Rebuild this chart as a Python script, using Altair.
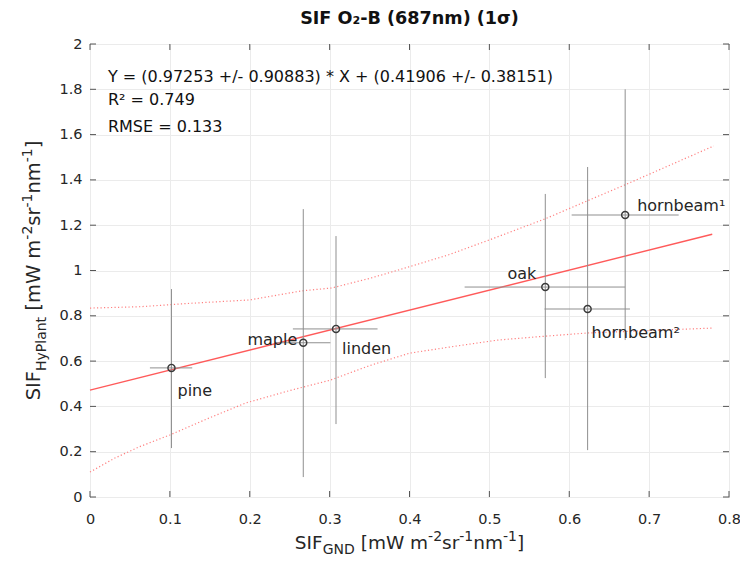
import altair as alt
import pandas as pd

# ---------------- data ----------------
names = ["pine", "maple", "linden", "oak", "hornbeam²", "hornbeam¹"]
sif_gnd = [0.102, 0.267, 0.308, 0.570, 0.623, 0.670]
sif_hyplant = [0.570, 0.681, 0.742, 0.927, 0.830, 1.245]
gnd_lo = [0.075, 0.232, 0.254, 0.469, 0.569, 0.603]
gnd_hi = [0.128, 0.301, 0.360, 0.670, 0.676, 0.737]
hyp_lo = [0.216, 0.088, 0.322, 0.525, 0.207, 0.693]
hyp_hi = [0.918, 1.271, 1.152, 1.338, 1.457, 1.800]

fit_x = [0.0, 0.779]
fit_y = [0.472, 1.160]

upper_x = [0.0, 0.062, 0.125, 0.200, 0.265, 0.303, 0.352, 0.386, 0.448, 0.500, 0.569, 0.669, 0.781]
upper_y = [0.834, 0.840, 0.855, 0.870, 0.910, 0.923, 0.967, 1.002, 1.068, 1.135, 1.227, 1.377, 1.550]
lower_x = [0.0, 0.030, 0.062, 0.100, 0.150, 0.195, 0.250, 0.300, 0.350, 0.400, 0.450, 0.511, 0.573, 0.623, 0.700, 0.781]
lower_y = [0.110, 0.170, 0.222, 0.274, 0.350, 0.415, 0.470, 0.515, 0.580, 0.635, 0.662, 0.693, 0.711, 0.724, 0.735, 0.746]

x_ticks = [0.0, 0.1, 0.2, 0.3, 0.4, 0.5, 0.6, 0.7, 0.8]
y_ticks = [0.0, 0.2, 0.4, 0.6, 0.8, 1.0, 1.2, 1.4, 1.6, 1.8, 2.0]

eq_lines = ["Y = (0.97253 +/- 0.90883) * X + (0.41906 +/- 0.38151)", "R² = 0.749", "RMSE = 0.133"]
eq_y = [1.854, 1.753, 1.634]

title_text = "SIF O₂-B (687nm) (1σ)"
unit_parts = [("[mW m", 0), ("-2", 1), ("sr", 0), ("-1", 1), ("nm", 0), ("-1", 1), ("]", 0)]

# label offsets (pixels) relative to each point: (dx, dy, align)
label_style = [(6, 23, "left"), (-6, -3, "right"), (6, 20, "left"),
               (-9, -13, "right"), (4, 24, "left"), (12, -9, "left")]

W, H = 639, 453
FONT = "DejaVu Sans"
TXT = "#262626"

# approximate DejaVu Sans advance widths (em) for laying out the composite axis titles
DV = {" ": .318, "[": .390, "]": .390, "m": .974, "W": .989, "s": .521, "r": .411,
      "n": .634, "-": .361, "1": .636, "2": .636, "S": .635, "I": .295, "F": .575,
      "G": .775, "N": .748, "D": .770, "H": .752, "y": .592, "P": .603, "l": .278,
      "a": .613, "t": .392}


def tw(s, size):
    return sum(DV.get(c, .6) for c in s) * size


xs = alt.Scale(domain=[0, 0.8], nice=False, zero=False)
ys = alt.Scale(domain=[0, 2], nice=False, zero=False)

pts = pd.DataFrame({"name": names, "x": sif_gnd, "y": sif_hyplant,
                    "xlo": gnd_lo, "xhi": gnd_hi, "ylo": hyp_lo, "yhi": hyp_hi})

xaxis = alt.Axis(values=x_ticks, format="~g", title="", grid=True, tickSize=0,
                 domain=False, labelPadding=15, labelFlush=False)
yaxis = alt.Axis(values=y_ticks, format="~g", title="", grid=True, tickSize=0,
                 domain=False, labelPadding=8, labelFlush=False)

base = alt.Chart(pts)

axes = base.mark_point(opacity=0).encode(
    x=alt.X("x:Q", scale=xs, axis=xaxis),
    y=alt.Y("y:Q", scale=ys, axis=yaxis),
)

band_style = dict(color="#ff8080", strokeDash=[1.2, 2.3], strokeWidth=1.2)
upper = alt.Chart(pd.DataFrame({"x": upper_x, "y": upper_y})).mark_line(**band_style).encode(
    x=alt.X("x:Q", scale=xs), y=alt.Y("y:Q", scale=ys))
lower = alt.Chart(pd.DataFrame({"x": lower_x, "y": lower_y})).mark_line(**band_style).encode(
    x=alt.X("x:Q", scale=xs), y=alt.Y("y:Q", scale=ys))

fit = alt.Chart(pd.DataFrame({"x": fit_x, "y": fit_y})).mark_line(
    color="#ff5a5a", strokeWidth=1.4
).encode(x=alt.X("x:Q", scale=xs), y=alt.Y("y:Q", scale=ys))

vbar = base.mark_rule(color="#8f8f8f", strokeWidth=1).encode(
    x=alt.X("x:Q", scale=xs), y=alt.Y("ylo:Q", scale=ys), y2="yhi:Q")
hbar = base.mark_rule(color="#8f8f8f", strokeWidth=1).encode(
    x=alt.X("xlo:Q", scale=xs), x2="xhi:Q", y=alt.Y("y:Q", scale=ys))

circles = base.mark_point(shape="circle", size=50, filled=False, color="#3a3a3a",
                          strokeWidth=1.4, opacity=1).encode(
    x=alt.X("x:Q", scale=xs), y=alt.Y("y:Q", scale=ys))

labels = []
for i, (dx, dy, al) in enumerate(label_style):
    labels.append(
        alt.Chart(pts.iloc[[i]]).mark_text(
            align=al, baseline="middle", dx=dx, dy=dy, font=FONT, fontSize=16, color=TXT
        ).encode(x=alt.X("x:Q", scale=xs), y=alt.Y("y:Q", scale=ys), text="name:N")
    )

eq = alt.Chart(pd.DataFrame({"t": eq_lines, "y": eq_y, "x": [0.0224] * 3})).mark_text(
    align="left", baseline="middle", font=FONT, fontSize=16, color="#111111"
).encode(x=alt.X("x:Q", scale=xs), y=alt.Y("y:Q", scale=ys), text="t:N")

# inward ticks on all four sides
xt = alt.Chart(pd.DataFrame({"t": x_ticks}))
yt = alt.Chart(pd.DataFrame({"t": y_ticks}))
tk = dict(color="#555555", strokeWidth=1)
ticks = [
    xt.mark_rule(**tk).encode(x=alt.X("t:Q", scale=xs), y=alt.value(H), y2=alt.value(H - 6)),
    xt.mark_rule(**tk).encode(x=alt.X("t:Q", scale=xs), y=alt.value(0), y2=alt.value(6)),
    yt.mark_rule(**tk).encode(y=alt.Y("t:Q", scale=ys), x=alt.value(0), x2=alt.value(6)),
    yt.mark_rule(**tk).encode(y=alt.Y("t:Q", scale=ys), x=alt.value(W), x2=alt.value(W - 6)),
]


def piece(text, x, y, size, angle=0):
    return alt.Chart(pd.DataFrame({"t": [text]})).mark_text(
        align="left", baseline="alphabetic", font=FONT, fontSize=size, color=TXT, angle=angle
    ).encode(x=alt.value(x), y=alt.value(y), text="t:N")


# title as text mark
title = alt.Chart(pd.DataFrame({"t": [title_text]})).mark_text(
    align="center", baseline="alphabetic", font=FONT, fontSize=17.6, fontWeight="bold",
    color="#111111"
).encode(x=alt.value(W / 2), y=alt.value(-20), text="t:N")


# ---- composite axis titles (main text, subscripts, superscripts) ----
def composite(sub, main, small):
    parts = [("SIF", main, 0), (sub, small, 1), (" ", main, 0)]
    for t, kind in unit_parts:
        parts.append((t, small if kind else main, -1 if kind else 0))
    return parts


xparts = composite("GND", 18.5, 14)
xtotal = sum(tw(t, s) for t, s, _ in xparts)
xcur = W / 2 - xtotal / 2
xbase = H + 52
xtitle = []
for t, s, k in xparts:
    sh = {0: 0, 1: 5, -1: -8}[k]
    if t.strip():
        xtitle.append(piece(t, xcur, xbase + sh, s))
    xcur += tw(t, s)

yparts = composite("HyPlant", 19.5, 14)
ytotal = sum(tw(t, s) for t, s, _ in yparts)
ycur = H / 2 + ytotal / 2
ybase = -50
ytitle = []
for t, s, k in yparts:
    sh = {0: 0, 1: 6, -1: -8}[k]
    if t.strip():
        ytitle.append(piece(t, ybase + sh, ycur, s, 270))
    ycur -= tw(t, s)

chart = alt.layer(
    axes, upper, lower, fit, vbar, hbar, circles, *labels, eq, *ticks, title, *xtitle, *ytitle
).properties(
    width=W, height=H,
    autosize=alt.AutoSizeParams(type="none"),
    padding={"left": 82, "top": 36, "right": 11, "bottom": 61},
).configure_view(
    stroke="#555555", strokeWidth=1
).configure_axis(
    gridColor="#ebebeb", gridWidth=1, labelFont=FONT, labelFontSize=14.5, labelColor=TXT
)

chart.save("out.html", embed_options={"renderer": "svg", "actions": False})
